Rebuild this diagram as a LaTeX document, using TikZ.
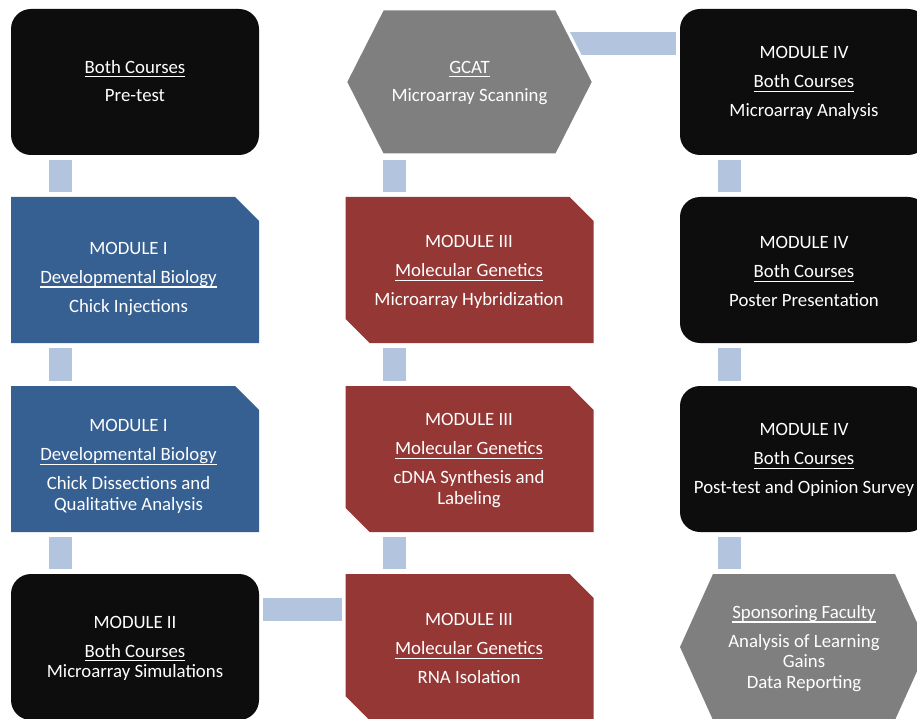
\documentclass[tikz,border=0pt]{standalone}
\usepackage{fontspec}
\setmainfont{Carlito}
\definecolor{boxblack}{RGB}{13,13,13}
\definecolor{boxblue}{RGB}{55,96,146}
\definecolor{boxred}{RGB}{149,55,53}
\definecolor{boxgray}{RGB}{127,127,127}
\definecolor{connblue}{RGB}{178,196,222}
\newsavebox\ulbox
\newcommand\myul[1]{\sbox\ulbox{#1}\rlap{\rule[-4.3pt]{\wd\ulbox}{1.3pt}}\usebox\ulbox}
\begin{document}
\begin{tikzpicture}[x=1pt,y=-1pt,
  frame/.style={rectangle, minimum width=248pt, minimum height=146pt, inner sep=0pt, outer sep=0pt},
  blackbox/.style={frame, fill=boxblack, rounded corners=20pt},
  txt/.style={text=white, align=center, font=\fontsize{18.8}{20.8}\selectfont, inner sep=0pt},
  conn/.style={draw=connblue, line width=23pt},
  bluefill/.style={fill=boxblue},
  redfill/.style={fill=boxred},
  hexfill/.style={fill=boxgray, draw=white, line width=3pt, line join=miter}
]
\useasboundingbox (0,0) rectangle (917,719);
\clip (0,0) rectangle (917,719);
\fill[white] (0,0) rectangle (917,719);

% frames
\node[blackbox] (pre) at (135,82) {};
\node[frame] (m1a) at (135,270) {};
\node[frame] (m1b) at (135,459) {};
\node[blackbox] (m2) at (135,647) {};
\node[frame] (gcat) at (469.5,82) {};
\node[frame] (hyb) at (469.5,270) {};
\node[frame] (cdna) at (469.5,459) {};
\node[frame] (rna) at (469.5,647) {};
\node[blackbox] (ana) at (804,82) {};
\node[blackbox] (post) at (804,270) {};
\node[blackbox] (opin) at (804,459) {};
\node[frame] (fac) at (804,647) {};

% connectors
\foreach \a/\b in {pre/m1a, m1a/m1b, m1b/m2, gcat/hyb, hyb/cdna, cdna/rna, ana/post, post/opin, opin/fac}
  \draw[conn] ([xshift=49pt,yshift=-5pt]\a.south west) -- ([xshift=49pt,yshift=5pt]\b.north west);
\draw[conn] ([xshift=4pt,yshift=37.5pt]m2.east) -- ([xshift=-4pt,yshift=37.5pt]rna.west);
\draw[conn] ([xshift=-31pt,yshift=38.5pt]gcat.east) -- ([xshift=-4pt,yshift=38.5pt]ana.west);

% blue shapes
\foreach \n in {m1a, m1b}
  \fill[bluefill] (\n.north west) -- ([xshift=-24pt]\n.north east) -- ([yshift=-24pt]\n.north east)
    -- (\n.south east) -- (\n.south west) -- cycle;
% red shapes
\foreach \n in {hyb, cdna, rna}
  \fill[redfill] (\n.north west) -- ([xshift=-24pt]\n.north east) -- ([yshift=-24pt]\n.north east)
    -- (\n.south east) -- ([xshift=24pt]\n.south west) -- ([yshift=24pt]\n.south west) -- cycle;
% hexagons
\filldraw[hexfill] (gcat.west) -- ([xshift=37pt]gcat.north west) -- ([xshift=-37pt]gcat.north east)
  -- (gcat.east) -- ([xshift=-37pt]gcat.south east) -- ([xshift=37pt]gcat.south west) -- cycle;
\fill[boxgray] (fac.west) -- ([xshift=33pt]fac.north west) -- ([xshift=-33pt]fac.north east)
  -- (fac.east) -- ([xshift=-33pt]fac.south east) -- ([xshift=33pt]fac.south west) -- cycle;

% texts
\node[txt] (tpre) at (135,81) {\myul{Both Courses}\\[8pt]Pre-test};
\node[txt] (tm1a) at (128.5,279) {MODULE I\\[8pt]\myul{Developmental Biology}\\[8pt]Chick Injections};
\node[txt] (tm1b) at (128.5,466.5) {MODULE I\\[8pt]\myul{Developmental Biology}\\[8pt]Chick Dissections and\\Qualitative Analysis};
\node[txt] (tm2) at (135,648.5) {MODULE II\\[8pt]\myul{Both Courses}\\Microarray Simulations};
\node[txt] (tgcat) at (469.5,83) {\myul{GCAT}\\[8pt]Microarray Scanning};
\node[txt] (thyb) at (469,272) {MODULE III\\[8pt]\myul{Molecular Genetics}\\[8pt]Microarray Hybridization};
\node[txt] (tcdna) at (469,460.5) {MODULE III\\[8pt]\myul{Molecular Genetics}\\[8pt]cDNA Synthesis and\\Labeling};
\node[txt] (trna) at (469,648.5) {MODULE III\\[8pt]\myul{Molecular Genetics}\\[8pt]RNA Isolation};
\node[txt] (tana) at (804,83) {MODULE IV\\[8pt]\myul{Both Courses}\\[8pt]Microarray Analysis};
\node[txt] (tpost) at (804,271.5) {MODULE IV\\[8pt]\myul{Both Courses}\\[8pt]Poster Presentation};
\node[txt] (topin) at (804,460) {MODULE IV\\[8pt]\myul{Both Courses}\\[8pt]Post-test and Opinion Survey};
\node[txt] (tfac) at (804,648.5) {\myul{Sponsoring Faculty}\\[8pt]Analysis of Learning\\Gains\\Data Reporting};
\end{tikzpicture}
\end{document}
